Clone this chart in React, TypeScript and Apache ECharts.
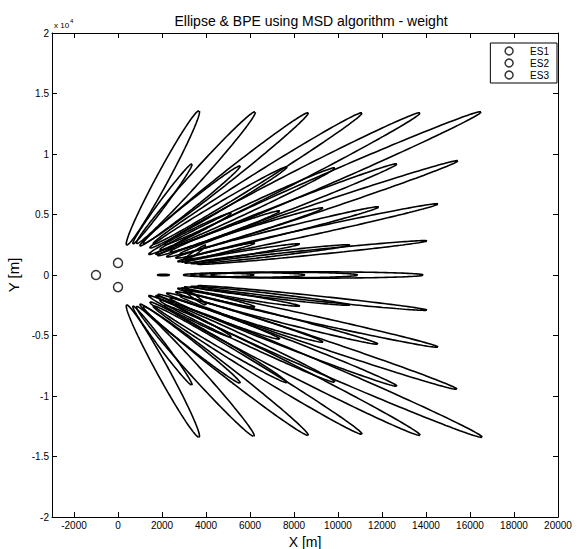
import React, { useEffect, useRef } from "react";
import * as echarts from "echarts";

const titleText = "Ellipse & BPE using MSD algorithm - weight";
const xTicks = [-2000, 0, 2000, 4000, 6000, 8000, 10000, 12000, 14000, 16000, 18000, 20000];

const emitterNames = ["ES1", "ES2", "ES3"];
const emitterX = [-1000, 0, 0];
const emitterY = [0, 1000, -1000];

// each ellipse: [innerX, innerY, tipX, tipY, semiMinor] in metres
const upperRowA = [
  [400, 2480, 3680, 13580, 300],
  [850, 2600, 6230, 13490, 320],
  [1150, 2600, 8640, 13410, 330],
  [1600, 2550, 11090, 13410, 350],
  [2100, 2500, 13730, 13410, 380],
  [2600, 2450, 16500, 13490, 400],
];
const upperRowB = [
  [680, 2570, 3360, 9190, 180],
  [1000, 2400, 5550, 9020, 230],
  [1450, 2230, 7680, 8940, 260],
  [1900, 2070, 9860, 8860, 280],
  [2360, 1900, 12680, 9190, 300],
  [2820, 1740, 15450, 9440, 320],
];
const upperRowC = [
  [1700, 1700, 2550, 2300, 80],
  [1400, 1700, 5140, 5130, 200],
  [1800, 1600, 7360, 5300, 220],
  [2200, 1500, 9320, 5550, 240],
  [2600, 1400, 11860, 5630, 260],
  [3000, 1300, 14550, 5880, 280],
];
const upperRowD = [
  [2900, 1050, 4000, 2480, 110],
  [2700, 1100, 6230, 2650, 150],
  [3000, 1000, 8270, 2570, 170],
  [3300, 950, 10550, 2480, 190],
  [3600, 900, 14050, 2820, 210],
];
const centreRow = [
  [1770, 0, 2360, 0, 60],
  [2950, 0, 6200, 0, 150],
  [3300, 0, 8500, 0, 200],
  [3700, 0, 10900, 0, 230],
  [4200, 0, 13880, 0, 260],
];
const lowerRowD = [
  [2900, -1050, 4000, -2480, 110],
  [2700, -1100, 6230, -2650, 150],
  [3000, -1000, 8270, -2570, 170],
  [3300, -950, 10550, -2480, 190],
  [3600, -900, 14050, -2900, 210],
];
const lowerRowC = [
  [1700, -1700, 2550, -2300, 80],
  [1400, -1700, 5140, -5130, 200],
  [1800, -1600, 7360, -5300, 220],
  [2200, -1500, 9320, -5550, 240],
  [2600, -1400, 11820, -5710, 260],
  [3000, -1300, 14550, -5960, 280],
];
const lowerRowB = [
  [680, -2570, 3360, -9110, 180],
  [1000, -2400, 5550, -8940, 230],
  [1450, -2230, 7680, -8900, 260],
  [1900, -2070, 9860, -8860, 280],
  [2360, -1900, 12680, -9190, 300],
  [2820, -1740, 15410, -9440, 320],
];
const lowerRowA = [
  [400, -2480, 3680, -13410, 300],
  [850, -2600, 6180, -13330, 320],
  [1150, -2600, 8640, -13250, 330],
  [1600, -2550, 11090, -13160, 350],
  [2100, -2500, 13730, -13250, 380],
  [2600, -2450, 16550, -13410, 400],
];

const allEllipses = [
  ...upperRowA, ...upperRowB, ...upperRowC, ...upperRowD, ...centreRow,
  ...lowerRowD, ...lowerRowC, ...lowerRowB, ...lowerRowA,
];

function ellipsePoints(e: number[]) {
  const [x1, y1, x2, y2, b] = e;
  const cx = (x1 + x2) / 2;
  const cy = (y1 + y2) / 2;
  const dx = (x2 - x1) / 2;
  const dy = (y2 - y1) / 2;
  const a = Math.hypot(dx, dy);
  const ux = dx / a, uy = dy / a;
  const vx = -uy, vy = ux;
  const pts: number[][] = [];
  const n = 160;
  for (let i = 0; i <= n; i++) {
    const t = (i / n) * 2 * Math.PI;
    pts.push([
      cx + a * Math.cos(t) * ux + b * Math.sin(t) * vx,
      cy + a * Math.cos(t) * uy + b * Math.sin(t) * vy,
    ]);
  }
  return pts;
}

const FONT = "Liberation Sans, Arial, sans-serif";

export default function App() {
  const ref = useRef<HTMLDivElement>(null);
  useEffect(() => {
    if (!ref.current) return;
    document.body.style.margin = "0";
    const chart = echarts.init(ref.current, null, { renderer: "svg" });
    const ellipseSeries = allEllipses.map((e, i) => ({
      type: "line",
      name: "ellipse" + i,
      data: ellipsePoints(e),
      showSymbol: false,
      symbol: "none",
      silent: true,
      lineStyle: { color: "#000", width: 1.6 },
      z: 2,
    }));
    const emitterSeries = emitterNames.map((n, i) => ({
      type: "scatter",
      name: n,
      data: [[emitterX[i], emitterY[i]]],
      symbol: "circle",
      symbolSize: 9,
      itemStyle: { color: "#fff", borderColor: "#000", borderWidth: 1.5 },
      z: 5,
    }));
    const axisLine = { show: true, onZero: false, lineStyle: { color: "#000", width: 1 } };
    chart.setOption({
      animation: false,
      backgroundColor: "#fff",
      textStyle: { fontFamily: FONT },
      title: {
        text: titleText,
        left: 306,
        textAlign: "center",
        top: 9,
        textStyle: { fontSize: 14, fontWeight: "normal", color: "#000", fontFamily: FONT },
      },
      legend: {
        data: emitterNames.map((n) => ({ name: n, icon: "circle" })),
        orient: "vertical",
        right: 30,
        top: 43,
        padding: [3, 8, 3, 14],
        itemGap: 2,
        itemWidth: 8,
        itemHeight: 8,
        borderColor: "#000",
        borderWidth: 1,
        backgroundColor: "#fff",
        itemStyle: { color: "#fff", borderColor: "#000", borderWidth: 1.5 },
        textStyle: { fontSize: 10, color: "#000", fontFamily: FONT, padding: [0, 0, 0, 12] },
      },
      grid: { left: 52, right: 29, top: 33, bottom: 32, containLabel: false, outerBoundsMode: "none" },
      xAxis: [
        {
          type: "value",
          min: -3000,
          max: 20000,
          position: "bottom",
          axisLine,
          splitLine: { show: false },
          name: "X [m]",
          nameLocation: "middle",
          nameGap: 10,
          nameTextStyle: { fontSize: 14, color: "#000", fontFamily: FONT },
          axisTick: { show: true, inside: true, length: 5, customValues: xTicks, lineStyle: { color: "#000" } },
          axisLabel: {
            customValues: xTicks,
            fontSize: 10,
            color: "#000",
            margin: 3,
            fontFamily: FONT,
            showMinLabel: true,
            showMaxLabel: true,
            formatter: (v: number) => String(v),
          },
        },
        {
          type: "value",
          min: -3000,
          max: 20000,
          position: "top",
          axisLine,
          splitLine: { show: false },
          axisTick: { show: true, inside: true, length: 5, customValues: xTicks, lineStyle: { color: "#000" } },
          axisLabel: { show: false },
        },
      ],
      yAxis: [
        {
          type: "value",
          min: -20000,
          max: 20000,
          interval: 5000,
          position: "left",
          axisLine,
          splitLine: { show: false },
          name: "Y [m]",
          nameLocation: "middle",
          nameGap: 25,
          nameTextStyle: { fontSize: 15, color: "#000", fontFamily: FONT },
          axisTick: { show: true, inside: true, length: 5, lineStyle: { color: "#000" } },
          axisLabel: {
            fontSize: 10,
            color: "#000",
            margin: 3,
            fontFamily: FONT,
            formatter: (v: number) => String(v / 10000),
          },
        },
        {
          type: "value",
          min: -20000,
          max: 20000,
          interval: 5000,
          position: "right",
          axisLine,
          splitLine: { show: false },
          axisTick: { show: true, inside: true, length: 5, lineStyle: { color: "#000" } },
          axisLabel: { show: false },
        },
      ],
      graphic: [
        { type: "text", left: 54, top: 21, style: { text: "x 10", fontSize: 8, fill: "#000", fontFamily: FONT } },
        { type: "text", left: 70, top: 18, style: { text: "4", fontSize: 6, fill: "#000", fontFamily: FONT } },
      ],
      series: [...ellipseSeries, ...emitterSeries],
    });
    return () => chart.dispose();
  }, []);
  return <div ref={ref} style={{ width: 587, height: 549 }} />;
}
